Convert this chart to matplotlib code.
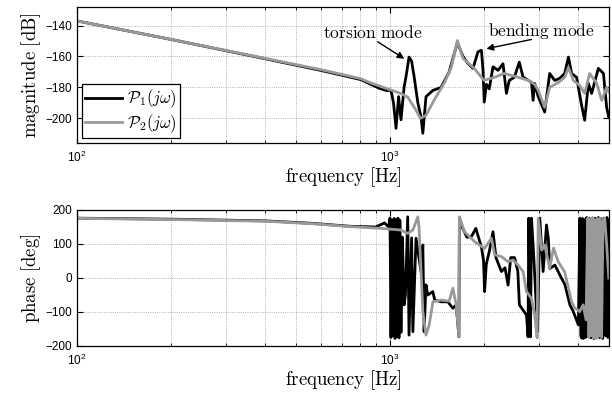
import numpy as np
import matplotlib
matplotlib.use("Agg")
import matplotlib.pyplot as plt
from matplotlib.ticker import LogLocator, NullFormatter

plt.rcParams['mathtext.fontset'] = 'cm'
plt.rcParams['font.family'] = ['Liberation Sans', 'DejaVu Sans']

# magnitude, P1 (black)
f_mag1 = [100, 200, 358, 600, 807, 922, 971, 1007, 1026, 1045, 1065, 1084, 1109, 1125,
          1150, 1172, 1194, 1227, 1256, 1273, 1303, 1370, 1456, 1545, 1641, 1711, 1774,
          1841, 1910, 1959, 1982, 2000, 2032, 2075, 2133, 2213, 2296, 2354, 2404, 2495,
          2588, 2660, 2831, 2865, 2896, 2975, 3119, 3236, 3357, 3483, 3614, 3715, 3803,
          3945, 4093, 4186, 4303, 4406, 4630, 4806, 4921, 5000]
mag1 = [-137, -149, -159.5, -169, -175, -180.5, -182, -182, -190, -206.5, -186, -201, -180, -173,
        -160.4, -163, -173, -190, -199, -209.7, -186, -182, -180, -170, -151, -160, -164.5,
        -167.7, -157, -156, -169, -189.5, -178, -181, -166.7, -169, -164.7, -183.9, -175.5, -173.5,
        -163.7, -173.3, -176.8, -188.4, -177.4, -186, -196, -171, -175.5, -174.2, -171, -160.4, -171,
        -173.5, -191.6, -201.3, -177.4, -183.9, -167.7, -171, -193, -199.5]

# magnitude, P2 (gray)
f_mag2 = [100, 200, 358, 600, 807, 869, 922, 1000, 1084, 1139, 1211, 1250, 1303, 1382, 1489,
          1569, 1641, 1711, 1859, 1959, 2000, 2153, 2318, 2570, 2767, 2896, 2975, 3119, 3236,
          3450, 3614, 3715, 3851, 4035, 4186, 4343, 4573, 4746, 4921, 5000]
mag2 = [-137, -149, -159.3, -168.5, -174.4, -177.2, -179, -181.5, -184, -186.3, -194.8, -200, -198.1, -188.4, -177.4,
        -167.1, -149.7, -161.3, -167.7, -173.5, -175.5, -173.5, -171, -173.5, -175.5, -178, -181.9, -192.9, -180,
        -176.8, -173.5, -167.1, -175.5, -178.7, -183.9, -171, -177.4, -188.4, -180, -183]

# phase, P1 (black)
f_ph1 = [100, 200, 400, 558, 750, 900, 960, 990, 1000, 1007, 1015, 1022, 1030, 1038, 1045,
         1053, 1060, 1068, 1075, 1084, 1095, 1109, 1120, 1139, 1150, 1172, 1183, 1211, 1256,
         1273, 1285, 1303, 1320, 1370, 1390, 1456, 1530, 1588, 1627, 1660, 1666, 1700, 1760,
         1820, 1880, 1960, 1990, 2005, 2030, 2080, 2133, 2180, 2269, 2330, 2383, 2430, 2500,
         2560, 2590, 2640, 2729, 2760, 2775, 2810, 2831, 2880, 2960, 3009, 3084, 3162, 3203,
         3241, 3363, 3532, 3621, 3756, 3851, 3996, 4043, 4070, 4093, 4120, 4150, 4180, 4210,
         4250, 4290, 4330, 4380, 4430, 4480, 4530, 4580, 4630, 4680, 4730, 4780, 4830, 4880,
         4930, 4970, 5000]
ph1 = [176, 173, 168, 161, 152, 150, 162, 150, 176, -175, 170, -170, 175, -178, 172,
       -172, 176, -176, 170, -160, 120, -79, -50, 180, -168, 118, -158, 117, 19,
       97, -158, -20, -50, -40, -65, -70, -70, -89, -79, -173, 178, 150, 120,
       122, 146, 90, 50, -40, 40, 82, 136, 60, 19, 30, -21, 60, 60,
       20, -79, -90, -109, -173, 176, -173, 176, 60, -158, 176, 19, 156, 117,
       28, 38, -1, -20, -79, -99, -138, 176, -170, -177, 175, -178, 172, -175,
       178, -172, 176, -176, 170, -178, 176, -174, 178, -176, 174, -178, 176, -170,
       178, -175, 170]

# phase, P2 (gray)
f_ph2 = [100, 200, 400, 558, 750, 936, 1084, 1139, 1183, 1227, 1238, 1273, 1303, 1334, 1371,
         1456, 1545, 1588, 1627, 1660, 1666, 1730, 1862, 2005, 2108, 2160, 2269, 2383, 2472,
         2565, 2661, 2729, 2831, 2900, 2950, 2975, 3050, 3119, 3236, 3330, 3450, 3614, 3803,
         3890, 4035, 4140, 4230, 4280, 4320, 4360, 4400, 4440, 4480, 4520, 4560, 4600, 4640,
         4690, 4740, 4790, 4850, 4920, 5000]
ph2 = [175.5, 172, 167, 160, 151, 146, 141, 131, 141, 180, 147, -99, -168, -138, -70,
       -65, -68, -30, -79, -172, 180, 136, 107, 87, 117, 68, 63, 48, 53,
       38, 19, -40, -60, -110, -176, 176, 82, 97, 29, 88, 47, 18, -70,
       -88, -99, -79, -123, 176, -175, 175, -170, 178, -176, 172, -178, 175, -172,
       176, -175, 170, 176, 100, 0]

gray = '#999999'

fig = plt.figure(figsize=(6.12, 3.96), dpi=100)
ax1 = fig.add_axes([0.1258, 0.6389, 0.869, 0.3434])
ax2 = fig.add_axes([0.1258, 0.1263, 0.869, 0.3434])

l1, = ax1.semilogx(f_mag1, mag1, color='k', lw=2)
l2, = ax1.semilogx(f_mag2, mag2, color=gray, lw=2)
ax2.semilogx(f_ph1, ph1, color='k', lw=2)
ax2.semilogx(f_ph2, ph2, color=gray, lw=2)

ax1.set_ylim(-216, -128)
ax1.set_yticks([-200, -180, -160, -140])
ax2.set_ylim(-200, 200)
ax2.set_yticks([-200, -100, 0, 100, 200])

for ax in (ax1, ax2):
    ax.set_xlim(100, 5000)
    ax.xaxis.set_major_locator(LogLocator(base=10, numticks=10))
    ax.xaxis.set_minor_locator(LogLocator(base=10, subs=np.arange(2, 10), numticks=10))
    ax.xaxis.set_minor_formatter(NullFormatter())
    ax.grid(True, which='both', axis='x', ls=':', color='#999999', lw=0.6)
    ax.grid(True, which='major', axis='y', ls=':', color='#999999', lw=0.6)
    ax.tick_params(which='both', direction='in', top=True, right=True, labelsize=8.5)
    ax.tick_params(which='major', length=4)
    ax.tick_params(which='minor', length=2)
    ax.tick_params(axis='x', pad=5)
    ax.set_xlabel(r'$\mathrm{frequency\ [Hz]}$', fontsize=13.5, labelpad=0)
    for s in ax.spines.values():
        s.set_linewidth(0.9)

ax1.set_ylabel(r'$\mathrm{magnitude\ [dB]}$', fontsize=13.5, labelpad=2)
ax2.set_ylabel(r'$\mathrm{phase\ [deg]}$', fontsize=13.5, labelpad=2)

# annotations
ax1.text(880, -144.5, r'$\mathrm{torsion\ mode}$', ha='center', va='center', fontsize=12.5)
ax1.annotate('', xy=(1111, -161.5), xytext=(913, -150.5),
             arrowprops=dict(arrowstyle='-|>', color='k', lw=1, shrinkA=0, shrinkB=0,
                             mutation_scale=10))
ax1.text(3048, -143.5, r'$\mathrm{bending\ mode}$', ha='center', va='center', fontsize=12.5)
ax1.annotate('', xy=(2032, -155), xytext=(2831, -149),
             arrowprops=dict(arrowstyle='-|>', color='k', lw=1, shrinkA=0, shrinkB=0,
                             mutation_scale=10))

leg = ax1.legend([l1, l2], [r'$\mathcal{P}_1(j\omega)$', r'$\mathcal{P}_2(j\omega)$'],
                 loc='lower left', fontsize=12, fancybox=False, framealpha=1,
                 edgecolor='k', handlelength=2.2, borderaxespad=0.3,
                 borderpad=0.2, labelspacing=0.1, handletextpad=0.3)
leg.get_frame().set_linewidth(0.9)

fig.savefig('out.png', dpi=100)
